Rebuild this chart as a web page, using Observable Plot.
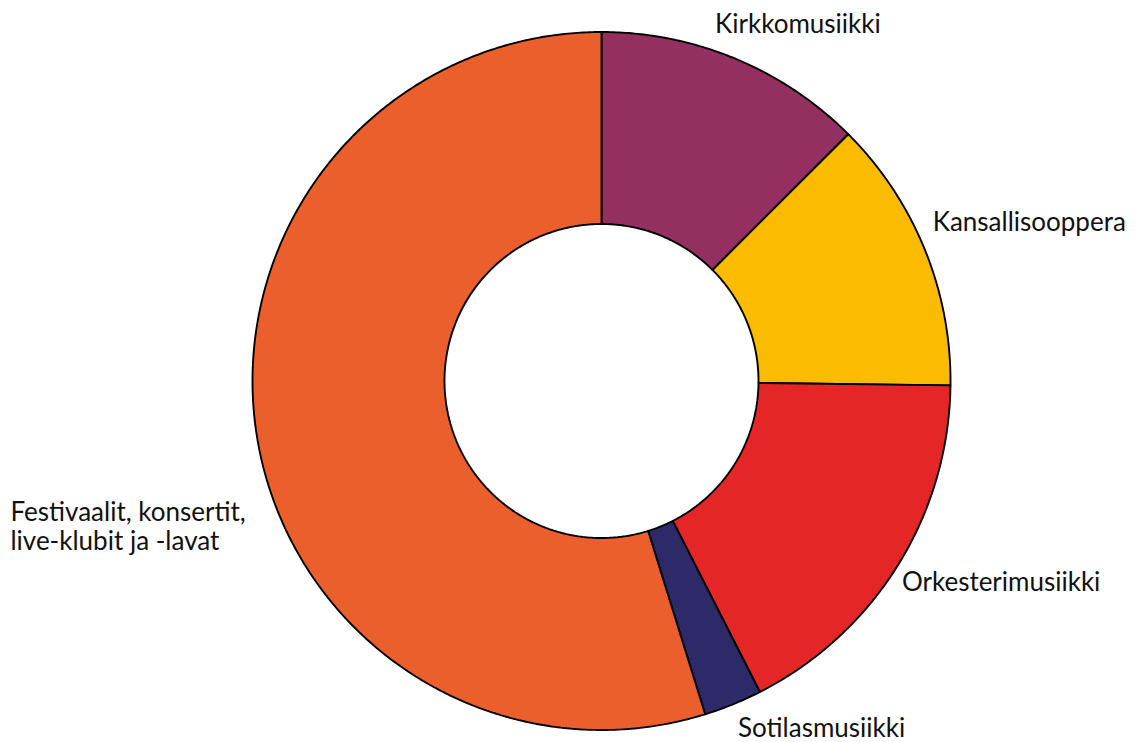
<!DOCTYPE html>
<html>
<head>
<meta charset="utf-8">
<script src="https://cdn.jsdelivr.net/npm/d3@7"></script>
<script src="https://cdn.jsdelivr.net/npm/@observablehq/plot@0.6"></script>
<style>
  html, body { margin: 0; padding: 0; background: #ffffff; }
  #chart svg { display: block; }
</style>
</head>
<body>
<div id="chart"></div>
<script>
// ---- data ----
const categories = ["Kirkkomusiikki", "Kansallisooppera", "Orkesterimusiikki", "Sotilasmusiikki", "Festivaalit, konsertit,\nlive-klubit ja -lavat"];
const values = [12.5, 12.7, 17.3, 2.7, 54.8];
const colors = ["#93305f", "#fbbb00", "#e42726", "#2e2968", "#eb5f2d"];

// ---- layout (pixel space) ----
const W = 1136, H = 742;
const cx = 601, cy = 380.5, R = 349, R0 = 157;
// label offsets (px) from the outer point at each slice's mid-angle
const labelDx = [-20, 8, 4, 5, -246];
const labelDy = [-26, -18, 26, 33, 117];

const pie = d3.pie().sort(null).value(d => d.value);
const rows = categories.map((c, i) => ({category: c, value: values[i]}));
const arcs = pie(rows);

// polygon vertices for each ring segment, in units of outer radius
const inner = R0 / R;
const pts = [];
for (const a of arcs) {
  const n = Math.max(8, Math.ceil((a.endAngle - a.startAngle) / (Math.PI / 360)));
  const ring = [];
  for (let k = 0; k <= n; k++) {
    const t = a.startAngle + (a.endAngle - a.startAngle) * k / n;
    ring.push([Math.sin(t), Math.cos(t)]);
  }
  for (let k = n; k >= 0; k--) {
    const t = a.startAngle + (a.endAngle - a.startAngle) * k / n;
    ring.push([inner * Math.sin(t), inner * Math.cos(t)]);
  }
  ring.push(ring[0]);
  for (const [x, y] of ring) pts.push({category: a.data.category, x, y});
}

const labels = arcs.map((a, i) => {
  const m = (a.startAngle + a.endAngle) / 2;
  return {
    text: a.data.category,
    x: Math.sin(m) + labelDx[i] / R,
    y: Math.cos(m) - labelDy[i] / R
  };
});

const chart = Plot.plot({
  width: W,
  height: H,
  margin: 0,
  style: {background: "#ffffff"},
  x: {domain: [-cx / R, (W - cx) / R], axis: null},
  y: {domain: [-(H - cy) / R, cy / R], axis: null},
  color: {domain: categories, range: colors},
  marks: [
    Plot.line(pts, {
      x: "x", y: "y", z: "category", fill: "category",
      stroke: "#000000", strokeWidth: 1.9, strokeLinejoin: "miter", curve: "linear"
    }),
    Plot.text(labels, {
      x: "x", y: "y", text: "text",
      textAnchor: "start", lineAnchor: "bottom", lineHeight: 1.115,
      fontSize: 26, fontFamily: "Lato, 'Noto Sans', sans-serif", fill: "#111111"
    })
  ]
});

document.getElementById("chart").appendChild(chart);
</script>
</body>
</html>
